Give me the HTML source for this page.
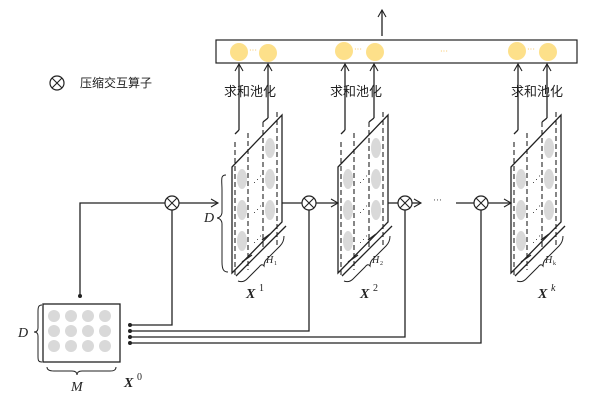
<!DOCTYPE html>
<html><head><meta charset="utf-8"><style>html,body{margin:0;padding:0;background:#fff}svg{display:block}</style></head>
<body>
<svg width="600" height="403" viewBox="0 0 600 403" xmlns="http://www.w3.org/2000/svg" font-family="'Liberation Serif', serif">
<defs>
<marker id="ar" markerWidth="10" markerHeight="10" refX="8" refY="5" orient="auto" markerUnits="userSpaceOnUse">
<path d="M1,1 L8,5 L1,9" fill="none" stroke="#222" stroke-width="1.1"/>
</marker>
<g id="ox"><circle r="7" fill="#fff" stroke="#222" stroke-width="1.2"/><path d="M-5,-5L5,5M5,-5L-5,5" stroke="#222" stroke-width="1.1"/></g>
<g id="layer">
<g stroke="#222" stroke-width="1.3" fill="none">
<path d="M239,130 V64" marker-end="url(#ar)"/>
<path d="M268,118 V64" marker-end="url(#ar)"/>
</g>
<g fill="#d9d9d9">
<ellipse cx="242" cy="179" rx="5" ry="10"/><ellipse cx="242" cy="210" rx="5" ry="10"/><ellipse cx="242" cy="241" rx="5" ry="10"/>
<ellipse cx="270" cy="148" rx="5" ry="10"/><ellipse cx="270" cy="179" rx="5" ry="10"/><ellipse cx="270" cy="210" rx="5" ry="10"/>
</g>
<g stroke="#222" stroke-width="1.1" stroke-dasharray="5,3" fill="none">
<path d="M235,142 V277"/><path d="M248,133 V270"/><path d="M263,122 V250"/><path d="M277,112 V245"/>
</g>
<g stroke="#222" stroke-width="1.3" fill="none">
<path d="M239,130 L235,134 M268,118 L263,122"/>
<path d="M232,167 L282,115 L282,222 L232,273 Z"/>
<path d="M236,276 L286,226"/>
<path d="M242,262 L252,255 M262,240 L270,234"/>
</g>
<path d="M238,281 Q243,283 247,279 L259,267 Q262,263 264,266 Q264,261 268,258 L280,246 Q284,242 284,236" stroke="#222" stroke-width="1" fill="none"/>
<g fill="#444" font-size="9">
<text x="253" y="182">⋰</text><text x="253" y="212">⋰</text><text x="253" y="242">⋰</text>
</g>
<text x="266" y="263" font-size="10" font-style="italic" fill="#222">H</text>
</g>
</defs>
<use href="#ox" x="57" y="83"/>
<text x="80" y="87" font-size="12" font-family="'Liberation Sans','Noto Sans CJK SC',sans-serif" fill="#222">压缩交互算子</text>
<rect x="216" y="40" width="361" height="23" fill="#fff" stroke="#222" stroke-width="1.2"/>
<g fill="#fde08a">
<circle cx="239" cy="52" r="9"/><circle cx="268" cy="53" r="9"/>
<circle cx="344" cy="51" r="9"/><circle cx="375" cy="52" r="9"/>
<circle cx="517" cy="51" r="9"/><circle cx="548" cy="52" r="9"/>
</g>
<g fill="#f5b942" font-size="8"><text x="249" y="53">···</text><text x="354" y="52">···</text><text x="527" y="52">···</text><text x="440" y="54">···</text></g>
<path d="M382,36 V10" stroke="#222" stroke-width="1.3" marker-end="url(#ar)"/>
<g font-size="13" font-family="'Liberation Sans','Noto Sans CJK SC',sans-serif" fill="#222">
<text x="224" y="96">求和池化</text><text x="330" y="96">求和池化</text><text x="511" y="96">求和池化</text>
</g>
<use href="#layer"/>
<use href="#layer" x="106"/>
<use href="#layer" x="279"/>
<text x="274" y="265" font-size="6" fill="#222">1</text>
<text x="380" y="265" font-size="6" fill="#222">2</text>
<text x="553" y="265" font-size="6" fill="#222">k</text>
<path d="M226,175 C220,175 222,180 222,190 L222,212 C222,216 219,218 217,218 C219,218 222,220 222,224 L222,262 C222,270 224,272 228,272" fill="none" stroke="#222" stroke-width="1"/>
<text x="204" y="222" font-size="14" font-style="italic" fill="#222">D</text>
<g font-size="14" font-weight="bold" font-style="italic" fill="#222">
<text x="246" y="298">X</text><text x="360" y="298">X</text><text x="538" y="298">X</text><text x="124" y="387">X</text>
</g>
<g font-size="10" fill="#222"><text x="259" y="291">1</text><text x="373" y="291">2</text><text x="551" y="291" font-style="italic">k</text><text x="137" y="380">0</text></g>
<g stroke="#222" stroke-width="1.3" fill="none">
<path d="M80,296 V203 H165"/>
<path d="M179,203 H218" marker-end="url(#ar)"/>
<path d="M282,203 H302"/>
<path d="M316,203 H338" marker-end="url(#ar)"/>
<path d="M388,203 H398"/>
<path d="M412,203 H421" marker-end="url(#ar)"/>
<path d="M456,203 H474"/>
<path d="M488,203 H511" marker-end="url(#ar)"/>
<path d="M130,325 H172 V210"/>
<path d="M130,331 H309 V210"/>
<path d="M130,337 H405 V210"/>
<path d="M130,343 H481 V210"/>
</g>
<text x="433" y="203" font-size="9" fill="#444">···</text>
<use href="#ox" x="172" y="203"/><use href="#ox" x="309" y="203"/><use href="#ox" x="405" y="203"/><use href="#ox" x="481" y="203"/>
<g fill="#222"><circle cx="80" cy="296" r="2"/><circle cx="130" cy="325" r="2"/><circle cx="130" cy="331" r="2"/><circle cx="130" cy="337" r="2"/><circle cx="130" cy="343" r="2"/></g>
<rect x="43" y="304" width="77" height="58" fill="#fff" stroke="#222" stroke-width="1.3"/>
<g fill="#d9d9d9">
<circle cx="54" cy="316" r="6"/><circle cx="71" cy="316" r="6"/><circle cx="88" cy="316" r="6"/><circle cx="105" cy="316" r="6"/>
<circle cx="54" cy="331" r="6"/><circle cx="71" cy="331" r="6"/><circle cx="88" cy="331" r="6"/><circle cx="105" cy="331" r="6"/>
<circle cx="54" cy="346" r="6"/><circle cx="71" cy="346" r="6"/><circle cx="88" cy="346" r="6"/><circle cx="105" cy="346" r="6"/>
</g>
<path d="M42,305 C38,305 38,308 38,312 L38,328 C38,331 36,332 34,332 C36,332 38,333 38,336 L38,356 C38,360 38,362 42,362" fill="none" stroke="#222" stroke-width="1"/>
<text x="18" y="337" font-size="14" font-style="italic" fill="#222">D</text>
<path d="M47,367 C47,370 50,371 54,371 L72,371 C76,371 77,373 77,375 C77,373 78,371 82,371 L110,371 C114,371 116,370 116,367" fill="none" stroke="#222" stroke-width="1"/>
<text x="71" y="391" font-size="14" font-style="italic" fill="#222">M</text>
</svg>
</body></html>
